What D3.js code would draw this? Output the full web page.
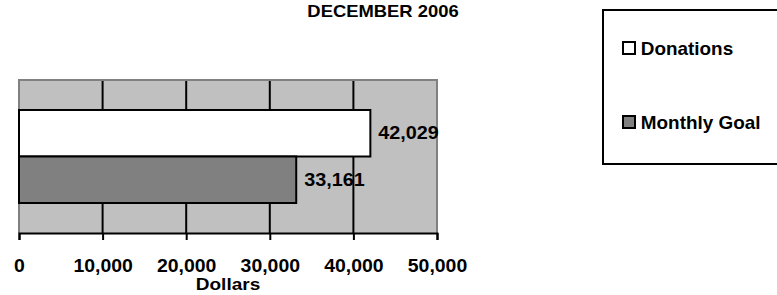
<!DOCTYPE html>
<html>
<head>
<meta charset="utf-8">
<script src="https://cdn.jsdelivr.net/npm/d3@7"></script>
<style>
  html, body { margin: 0; padding: 0; background: #fff; }
  svg { display: block; }
  text { font-family: "Liberation Sans", Arial, sans-serif; font-weight: bold; fill: #000; }
</style>
</head>
<body>
<svg id="chart" width="777" height="295"></svg>
<script>
const title = "DECEMBER 2006";
const categories = ["Donations", "Monthly Goal"];
const values = [42029, 33161];
const colors = ["#ffffff", "#808080"];
const tickValues = [0, 10000, 20000, 30000, 40000, 50000];
const tickLabels = ["0", "10,000", "20,000", "30,000", "40,000", "50,000"];
const axisTitle = "Dollars";

const svg = d3.select("#chart");
const plot = { left: 19, right: 437, top: 80, bottom: 233 };

const x = d3.scaleLinear().domain([0, 50000]).range([plot.left, plot.right]);
const y = d3.scaleBand().domain(categories).range([plot.top, plot.bottom])
  .paddingInner(0).paddingOuter(0.645);

function stretchedText(g, tx, ty, str, size, anchor, sx) {
  return g.append("text")
    .attr("transform", `translate(${tx},${ty}) scale(${sx},1)`)
    .attr("text-anchor", anchor)
    .style("font-size", size + "px")
    .text(str);
}

// title
stretchedText(svg, 383, 17, title, 16, "middle", 1.15);

// plot background
svg.append("rect")
  .attr("x", plot.left).attr("y", plot.top)
  .attr("width", plot.right - plot.left).attr("height", plot.bottom - plot.top)
  .attr("fill", "#c0c0c0");

// gridlines
svg.append("g").selectAll("line")
  .data(tickValues.filter(d => d > 0 && d < 50000))
  .join("line")
  .attr("x1", d => x(d)).attr("x2", d => x(d))
  .attr("y1", plot.top).attr("y2", plot.bottom)
  .attr("stroke", "#000").attr("stroke-width", 2);

// gray border (top, left, right)
svg.append("path")
  .attr("d", `M${plot.left},${plot.bottom}V${plot.top}H${plot.right}V${plot.bottom}`)
  .attr("fill", "none").attr("stroke", "#808080").attr("stroke-width", 2);

// bars
svg.append("g").selectAll("rect")
  .data(categories)
  .join("rect")
  .attr("x", x(0))
  .attr("y", d => y(d))
  .attr("width", (d, i) => x(values[i]) - x(0))
  .attr("height", y.bandwidth())
  .attr("fill", (d, i) => colors[i])
  .attr("stroke", "#000").attr("stroke-width", 2);

// value labels
const lbl = svg.append("g");
categories.forEach((c, i) => {
  stretchedText(lbl, x(values[i]) + 8, y(c) + y.bandwidth() / 2 + 6, d3.format(",")(values[i]), 18, "start", 1.1);
});

// x axis
const axis = d3.axisBottom(x).tickValues(tickValues).tickSize(7)
  .tickFormat((d, i) => tickLabels[i]);
const ag = svg.append("g").attr("transform", `translate(0,${plot.bottom})`).call(axis);
ag.select(".domain").attr("stroke", "#000").attr("stroke-width", 2);
ag.selectAll(".tick line").attr("stroke", "#000").attr("stroke-width", 2);
ag.selectAll(".tick text").remove();
ag.selectAll(".tick").each(function(d, i) {
  stretchedText(d3.select(this), 0, 39, tickLabels[i], 18, "middle", 1.08);
});

// axis title
stretchedText(svg, (plot.left + plot.right) / 2, 290, axisTitle, 17, "middle", 1.12);

// legend
svg.append("rect")
  .attr("x", 603).attr("y", 10).attr("width", 200).attr("height", 154)
  .attr("fill", "#fff").attr("stroke", "#000").attr("stroke-width", 2);
const legendY = [48, 122];
const lg = svg.append("g").selectAll("g").data(categories).join("g")
  .attr("transform", (d, i) => `translate(623,${legendY[i]})`);
lg.append("rect")
  .attr("x", 0).attr("y", -6).attr("width", 12).attr("height", 12)
  .attr("fill", (d, i) => colors[i])
  .attr("stroke", "#000").attr("stroke-width", 2);
lg.each(function(d) {
  d3.select(this).append("text")
    .attr("x", 17).attr("y", 7)
    .attr("transform", "scale(1.05,1)")
    .style("font-size", "18px")
    .text(d);
});
</script>
</body>
</html>
